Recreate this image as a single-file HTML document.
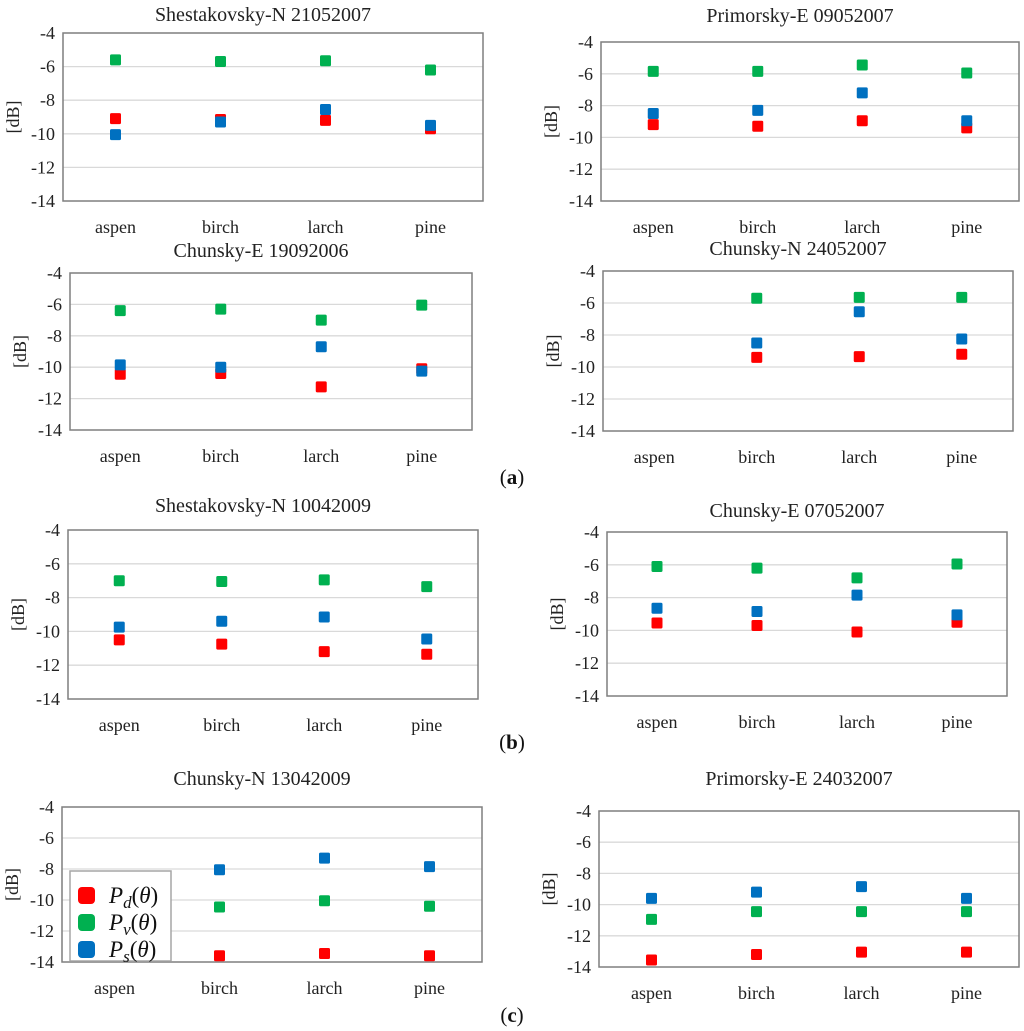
<!DOCTYPE html>
<html><head><meta charset="utf-8"><style>
body{margin:0;background:#fff;}
svg{display:block;font-family:"Liberation Serif",serif;}
</style></head><body>
<svg id="fig" width="1024" height="1031" viewBox="0 0 1024 1031" xmlns="http://www.w3.org/2000/svg"></svg>
<script>
const categories = ["aspen","birch","larch","pine"];
const yTicks = [-4,-6,-8,-10,-12,-14];
const titles = ["Shestakovsky-N 21052007","Primorsky-E 09052007","Chunsky-E 19092006","Chunsky-N 24052007","Shestakovsky-N 10042009","Chunsky-E 07052007","Chunsky-N 13042009","Primorsky-E 24032007"];
const pdValues = [
 [-9.1,-9.15,-9.2,-9.7],[-9.2,-9.3,-8.95,-9.4],[-10.45,-10.4,-11.25,-10.1],[null,-9.4,-9.35,-9.2],
 [-10.5,-10.75,-11.2,-11.35],[-9.55,-9.7,-10.1,-9.5],[null,-13.6,-13.45,-13.6],[-13.55,-13.2,-13.05,-13.05]];
const pvValues = [
 [-5.6,-5.7,-5.65,-6.2],[-5.85,-5.85,-5.45,-5.95],[-6.4,-6.3,-7.0,-6.05],[null,-5.7,-5.65,-5.65],
 [-7.0,-7.05,-6.95,-7.35],[-6.1,-6.2,-6.8,-5.95],[null,-10.45,-10.05,-10.4],[-10.95,-10.45,-10.45,-10.45]];
const psValues = [
 [-10.05,-9.3,-8.55,-9.5],[-8.5,-8.3,-7.2,-8.95],[-9.85,-10.0,-8.7,-10.25],[null,-8.5,-6.55,-8.25],
 [-9.75,-9.4,-9.15,-10.45],[-8.65,-8.85,-7.85,-9.05],[null,-8.05,-7.3,-7.85],[-9.6,-9.2,-8.85,-9.6]];

const frames = [
 [63,483,33,201,14],[601,1019,42,201,15],[70,472,273,430,250],[603,1013,271,431,248],
 [68,478,530,699,505],[607,1007,532,696,510],[62,482,807,962,778],[599,1019,811,967,778]];
const NS="http://www.w3.org/2000/svg";
const svg=document.getElementById('fig');
function mk(tag,attrs,parent,text){const e=document.createElementNS(NS,tag);for(const k in attrs)e.setAttribute(k,attrs[k]);if(text!==undefined)e.textContent=text;(parent||svg).appendChild(e);return e;}
const colors={pd:"#ff0000",pv:"#00b050",ps:"#0070c0"};
frames.forEach((f,i)=>{
 const [x0,x1,y0,y1,ty]=f;
 const g=mk('g',{});
 
 
 const yS=v=>y0+(v-(-4))/(-10)*(y1-y0);
 const xS=j=>x0+(j+0.5)*(x1-x0)/categories.length;
 yTicks.forEach(t=>{
  if(t!==-4&&t!==-14){const l=mk('line',{x1:x0,x2:x1,y1:yS(t),y2:yS(t),stroke:"#d9d9d9","stroke-width":1.3},g);
   }
  const tx=mk('text',{x:x0-8,y:yS(t)+6,"text-anchor":"end","font-size":18,fill:"#222"},g,String(t));
  
 });
 const r=mk('rect',{x:x0,y:y0,width:x1-x0,height:y1-y0,fill:"none",stroke:"#7f7f7f","stroke-width":1.5},g);
 
 categories.forEach((c,j)=>{const t=mk('text',{x:xS(j),y:y1+32,"text-anchor":"middle","font-size":18,fill:"#222"},g,c);
  });
 const tt=mk('text',{x:(x0+x1)/2-10,y:ty+7,"text-anchor":"middle","font-size":20,fill:"#222"},g,titles[i]);
 
 const cy=(y0+y1)/2, lx=x0-44;
 const yl=mk('text',{x:lx,y:cy,"text-anchor":"middle","font-size":18,fill:"#222",transform:`rotate(-90 ${lx} ${cy})`},g,"[dB]");
 
 [["pd",pdValues],["pv",pvValues],["ps",psValues]].forEach(([k,arr])=>{
  arr[i].forEach((v,j)=>{if(v===null)return;
   const m=mk('rect',{x:xS(j)-5.5,y:yS(v)-5.5,width:11,height:11,rx:1.5,fill:colors[k]},g);
   });
 });
});
const lg=mk('g',{});


mk('rect',{x:70,y:871,width:101,height:90,fill:"#fff",stroke:"#a6a6a6","stroke-width":1.5},lg);
[["pd","d",896],["pv","v",923],["ps","s",950]].forEach(([k,s,y])=>{
 const sq=mk('rect',{x:78,y:y-9,width:17,height:17,rx:4,fill:colors[k]},lg);
 
 const t=mk('text',{x:109,y:y+7,"font-size":23,"font-style":"italic",fill:"#111"},lg);
 
 mk('tspan',{},t,"P");mk('tspan',{dy:5,"font-size":17},t,s);mk('tspan',{dy:-5,"font-style":"normal"},t,"(");
 mk('tspan',{},t,"θ");mk('tspan',{"font-style":"normal"},t,")");
});
[["a",484],["b",749],["c",1022]].forEach(([s,y])=>{
 const t=mk('text',{x:512,y:y,"text-anchor":"middle","font-size":21,fill:"#111"},svg);
 
 mk('tspan',{},t,"(");mk('tspan',{"font-weight":"bold"},t,s);mk('tspan',{},t,")");
});
</script>
</body></html>
